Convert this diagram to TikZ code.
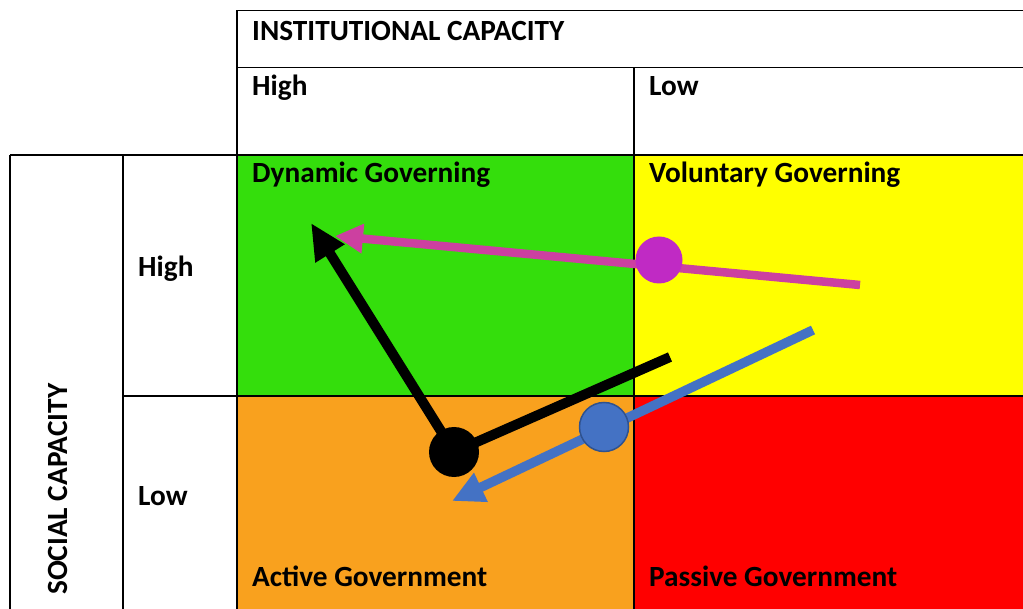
\documentclass[tikz,border=0pt]{standalone}
\usepackage{fontspec}
\setmainfont{Carlito}
\usetikzlibrary{arrows.meta}
\definecolor{qgreen}{RGB}{52,222,12}
\definecolor{qyellow}{RGB}{255,255,0}
\definecolor{qorange}{RGB}{249,161,30}
\definecolor{qred}{RGB}{255,0,0}
\definecolor{magline}{RGB}{204,64,160}
\definecolor{magdot}{RGB}{192,42,196}
\definecolor{bluel}{RGB}{68,114,196}
\definecolor{blueb}{RGB}{47,82,143}
\begin{document}
\begin{tikzpicture}[x=1pt,y=-1pt,
  lbl/.style={anchor=base west, inner sep=0pt, font=\bfseries\fontsize{29.3}{32}\selectfont},
  gridline/.style={line width=1.6pt, black},
  dot/.style={circle, inner sep=0pt},
  magarrow/.style={line width=8.5pt, magline, -{Triangle[length=28pt,width=28pt]}},
  blkarrow/.style={line width=10pt, black, -{Triangle[length=36pt,width=32pt]}},
  blkline/.style={line width=10pt, black},
  bluarrow/.style={line width=9.5pt, bluel, -{Triangle[length=32pt,width=30pt]}}]
\useasboundingbox (0,0) rectangle (1023,609);
\fill[white] (0,0) rectangle (1023,609);
% quadrant fills
\fill[qgreen] (237,155) rectangle (634,396);
\fill[qyellow] (634,155) rectangle (1023,396);
\fill[qorange] (237,396) rectangle (634,609);
\fill[qred] (634,396) rectangle (1023,609);
% grid
\draw[gridline] (237,10.5) -- (1023,10.5);
\draw[gridline] (237,67.5) -- (1023,67.5);
\draw[gridline] (10,155) -- (1023,155);
\draw[gridline] (123,396) -- (1023,396);
\draw[gridline] (237,10.5) -- (237,609);
\draw[gridline] (634,67.5) -- (634,609);
\draw[gridline] (10,155) -- (10,609);
\draw[gridline] (123,155) -- (123,609);
% labels
\node[lbl] (inst) at (252,41) {INSTITUTIONAL CAPACITY};
\node[lbl] (ihigh) at (252,96) {High};
\node[lbl] (ilow) at (649,96) {Low};
\node[lbl] (dyn) at (252,183) {Dynamic Governing};
\node[lbl] (vol) at (649,183) {Voluntary Governing};
\node[lbl] (act) at (252,586) {Active Government};
\node[lbl] (pas) at (649,586) {Passive Government};
\node[lbl] (shigh) at (138,277) {High};
\node[lbl] (slow) at (138,505) {Low};
\node[lbl, rotate=90] (soc) at (67,595) {SOCIAL CAPACITY};
% arrow end points
\coordinate (mstart) at (860,285);
\coordinate (mtip) at (335,236);
\coordinate (mcc) at (659,260);
\coordinate (bcc) at (454,452);
\coordinate (bend) at (670,357);
\coordinate (btip) at (311,223);
\coordinate (ustart) at (813,330);
\coordinate (utip) at (452,501);
\coordinate (ucc) at (604,427);
% connectors
\draw[magarrow] (mstart) -- (mtip);
\draw[blkline] (bcc) -- (bend);
\draw[blkarrow] (bcc) -- (btip);
\draw[bluarrow] (ustart) -- (utip);
% dots
\node[dot, fill=magdot, minimum size=47pt] (mdot) at (mcc) {};
\node[dot, fill=black, minimum size=50pt] (bdot) at (bcc) {};
\node[dot, fill=bluel, draw=blueb, line width=1.5pt, minimum size=49pt] (udot) at (ucc) {};
\end{tikzpicture}
\end{document}
